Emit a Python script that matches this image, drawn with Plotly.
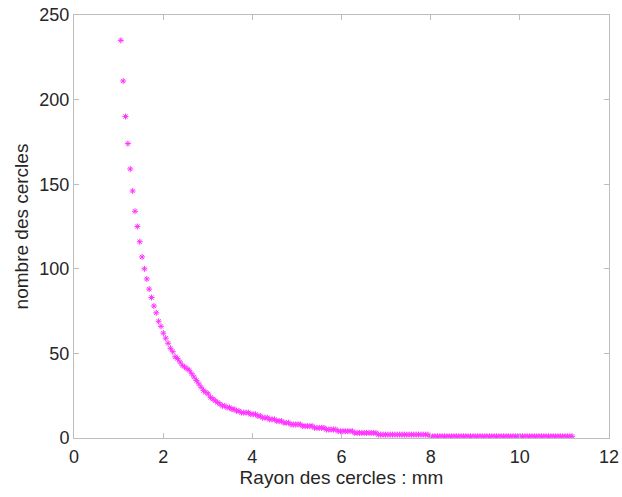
import plotly.graph_objects as go

radius_mm = [
    1.050, 1.103, 1.156, 1.209, 1.262, 1.315, 1.368, 1.421, 1.474, 1.527,
    1.580, 1.633, 1.686, 1.739, 1.792, 1.845, 1.898, 1.951, 2.004, 2.057,
    2.110, 2.163, 2.216, 2.269, 2.322, 2.375, 2.428, 2.481, 2.534, 2.587,
    2.640, 2.693, 2.746, 2.799, 2.852, 2.905, 2.958, 3.011, 3.064, 3.117,
    3.170, 3.223, 3.276, 3.329, 3.382, 3.435, 3.488, 3.541, 3.594, 3.647,
    3.700, 3.753, 3.806, 3.859, 3.912, 3.965, 4.018, 4.071, 4.124, 4.177,
    4.230, 4.283, 4.336, 4.389, 4.442, 4.495, 4.548, 4.601, 4.654, 4.707,
    4.760, 4.813, 4.866, 4.919, 4.972, 5.025, 5.078, 5.131, 5.184, 5.237,
    5.290, 5.343, 5.396, 5.449, 5.502, 5.555, 5.608, 5.661, 5.714, 5.767,
    5.820, 5.873, 5.926, 5.979, 6.032, 6.085, 6.138, 6.191, 6.244, 6.297,
    6.350, 6.403, 6.456, 6.509, 6.562, 6.615, 6.668, 6.721, 6.774, 6.827,
    6.880, 6.933, 6.986, 7.039, 7.092, 7.145, 7.198, 7.251, 7.304, 7.357,
    7.410, 7.463, 7.516, 7.569, 7.622, 7.675, 7.728, 7.781, 7.834, 7.887,
    7.940, 7.993, 8.046, 8.099, 8.152, 8.205, 8.258, 8.311, 8.364, 8.417,
    8.470, 8.523, 8.576, 8.629, 8.682, 8.735, 8.788, 8.841, 8.894, 8.947,
    9.000, 9.053, 9.106, 9.159, 9.212, 9.265, 9.318, 9.371, 9.424, 9.477,
    9.530, 9.583, 9.636, 9.689, 9.742, 9.795, 9.848, 9.901, 9.954, 10.007,
    10.060, 10.113, 10.166, 10.219, 10.272, 10.325, 10.378, 10.431, 10.484, 10.537,
    10.590, 10.643, 10.696, 10.749, 10.802, 10.855, 10.908, 10.961, 11.014, 11.067,
    11.120, 11.173,
]

circle_count = [
    235, 211, 190, 174, 159, 146, 134, 125, 116, 107,
    100, 94, 88, 83, 78, 74, 69, 66, 62, 59,
    56, 53, 51, 48, 47, 45, 43, 42, 41, 40,
    38, 36, 34, 32, 30, 28, 27, 26, 24, 23,
    22, 21, 20, 19, 19, 18, 18, 17, 17, 16,
    16, 15, 15, 15, 15, 14, 14, 14, 13, 13,
    12, 12, 12, 11, 11, 11, 10, 10, 10, 9,
    9, 9, 8, 8, 8, 8, 8, 7, 7, 7,
    7, 7, 6, 6, 6, 6, 6, 5, 5, 5,
    5, 5, 4, 4, 4, 4, 4, 4, 4, 3,
    3, 3, 3, 3, 3, 3, 3, 3, 3, 2,
    2, 2, 2, 2, 2, 2, 2, 2, 2, 2,
    2, 2, 2, 2, 2, 2, 2, 2, 2, 2,
    2, 1, 1, 1, 1, 1, 1, 1, 1, 1,
    1, 1, 1, 1, 1, 1, 1, 1, 1, 1,
    1, 1, 1, 1, 1, 1, 1, 1, 1, 1,
    1, 1, 1, 1, 1, 1, 1, 1, 1, 1,
    1, 1, 1, 1, 1, 1, 1, 1, 1, 1,
    1, 1, 1, 1, 1, 1, 1, 1, 1, 1,
    1, 1,
]

x_ticks = [0, 2, 4, 6, 8, 10, 12]
y_ticks = [0, 50, 100, 150, 200, 250]

FONT = "Liberation Sans, Arial, Helvetica, sans-serif"
AXIS_GREY = "#bdbdbd"
TEXT = "#262626"

fig = go.Figure(
    go.Scatter(
        x=radius_mm,
        y=circle_count,
        mode="markers",
        marker=dict(
            symbol="asterisk",
            size=5,
            color="#ff00ff",
            line=dict(color="#ff33ff", width=1),
        ),
        showlegend=False,
    )
)

axis_common = dict(
    showline=True,
    linecolor=AXIS_GREY,
    linewidth=1,
    mirror="ticks",
    ticks="inside",
    ticklen=5,
    tickwidth=1,
    tickcolor=AXIS_GREY,
    showgrid=False,
    zeroline=False,
    automargin=False,
    ticklabeloverflow="allow",
    tickfont=dict(family=FONT, size=18, color=TEXT),
)

fig.update_layout(
    width=622,
    height=497,
    margin=dict(l=74, r=13, t=15, b=59),
    paper_bgcolor="white",
    plot_bgcolor="white",
    font=dict(family=FONT, color=TEXT),
    xaxis=dict(
        range=[0, 12],
        tickvals=x_ticks,
        ticktext=[str(v) for v in x_ticks],
        ticklabelstandoff=2,
        title=dict(text="Rayon des cercles : mm", font=dict(family=FONT, size=19, color=TEXT), standoff=3),
        **axis_common,
    ),
    yaxis=dict(
        range=[0, 250],
        tickvals=y_ticks,
        ticktext=[str(v) for v in y_ticks],
        ticklabelstandoff=0,
        title=dict(text="nombre des cercles", font=dict(family=FONT, size=19, color=TEXT), standoff=5),
        **axis_common,
    ),
)

# Remove the browser's default 8px body margin so the figure sits at the page origin.
fig.write_html(
    "out.html",
    config={"displayModeBar": False},
    post_script="document.body.style.margin='0px';",
)
